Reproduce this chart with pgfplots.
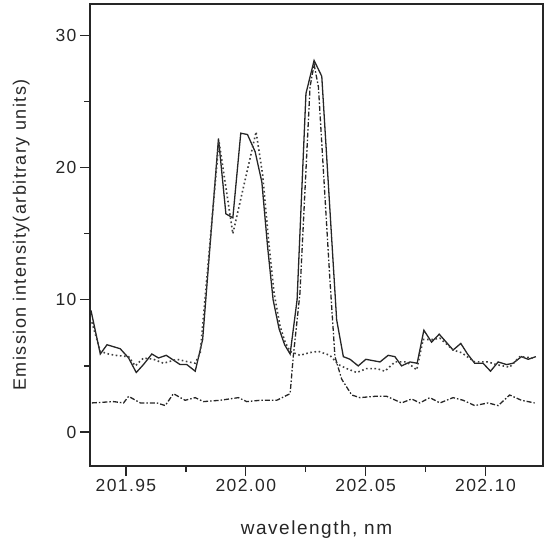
\documentclass[border=0pt]{standalone}
\usepackage{pgfplots}
\pgfplotsset{compat=1.18}
\usepackage{fontspec}
\setmainfont{Liberation Sans}[LetterSpace=8]
\begin{document}
\begin{tikzpicture}
\begin{axis}[
  scale only axis,
  width=453pt, height=462pt,
  xmin=201.935, xmax=202.124,
  ymin=-2.57, ymax=32.37,
  axis line style={line width=1.3pt, black!85},
  tick pos=left,
  tick align=outside,
  major tick length=10pt,
  minor tick length=6pt,
  every tick/.style={line width=1.3pt, black!85},
  xtick={201.95,202.00,202.05,202.10},
  minor x tick num=1,
  ytick={0,10,20,30},
  minor y tick num=1,
  xticklabel style={/pgf/number format/.cd, fixed, fixed zerofill, precision=2, 1000 sep={}, assume math mode=true},
  yticklabel style={/pgf/number format/assume math mode=true},
  ticklabel style={font=\fontsize{17.5}{20}\selectfont, black!85},
  scaled x ticks=false,
  xlabel={wavelength, nm},
  ylabel={Emission intensity(arbitrary units)},
  xlabel style={at={(axis description cs:0.5,-0.138)}, anchor=center, font=\fontsize{19}{22}\selectfont, black!85},
  ylabel style={at={(axis description cs:-0.152,0.5)}, anchor=center, rotate=0, font=\fontsize{18}{21}\selectfont, black!85},
  clip=true,
]
% solid
\addplot[black!85, line width=1.3pt] coordinates {
(201.9354,9.2) (201.9393,5.9) (201.9421,6.6) (201.9476,6.3) (201.9511,5.6)
(201.9543,4.5) (201.9573,5.1) (201.9608,5.9) (201.9636,5.6) (201.9668,5.8)
(201.9726,5.1) (201.9754,5.1) (201.9789,4.6) (201.9820,7.0)
(201.9886,22.2) (201.9917,16.5) (201.9946,16.2) (201.9979,22.6) (202.0007,22.5)
(202.0039,21.2) (202.0067,18.9) (202.0091,14.0) (202.0114,10.0) (202.0139,7.8)
(202.0162,6.6) (202.0185,5.9) (202.0214,10.0) (202.0251,25.6) (202.0285,28.1)
(202.0317,26.9) (202.0379,8.5) (202.0407,5.7) (202.0435,5.5) (202.0469,5.0)
(202.0501,5.5) (202.0530,5.4) (202.0560,5.3) (202.0594,5.8) (202.0622,5.7)
(202.0650,5.0) (202.0685,5.3) (202.0715,5.2) (202.0743,7.7) (202.0775,6.8)
(202.0807,7.4) (202.0836,6.8) (202.0865,6.2) (202.0897,6.7) (202.0925,5.9)
(202.0955,5.2) (202.0990,5.2) (202.1021,4.6) (202.1053,5.3) (202.1088,5.1)
(202.1115,5.2) (202.1150,5.7) (202.1178,5.5) (202.1210,5.7)
};
% dotted
\addplot[black!75, line width=1.6pt, dash pattern=on 1.6pt off 2.6pt] coordinates {
(201.9358,8.3) (201.9393,6.1) (201.9428,5.9) (201.9455,5.8) (201.9511,5.7)
(201.9539,5.0) (201.9573,5.6) (201.9615,5.5) (201.9657,5.2) (201.9713,5.5)
(201.9761,5.3) (201.9789,5.2) (201.9810,6.0) (201.9888,22.0) (201.9946,15.0)
(202.0043,22.7) (202.0070,19.5) (202.0095,14.5) (202.0118,10.5) (202.0143,8.0)
(202.0164,6.8) (202.0185,6.1) (202.0226,5.8) (202.0265,6.0) (202.0303,6.1)
(202.0351,5.8) (202.0386,5.1) (202.0421,4.8) (202.0463,4.5) (202.0504,4.8)
(202.0546,4.8) (202.0580,4.6) (202.0622,5.3) (202.0671,5.3) (202.0713,4.7)
(202.0740,7.0) (202.0782,7.0) (202.0810,7.1) (202.0865,6.2) (202.0900,6.0)
(202.0955,5.3) (202.1011,5.3) (202.1046,5.1) (202.1101,4.9) (202.1143,5.7)
(202.1198,5.6)
};
% dash-dot
\addplot[black!85, line width=1.3pt, dash pattern=on 5pt off 2pt on 1.5pt off 2pt] coordinates {
(201.9358,2.2) (201.9448,2.3) (201.9490,2.2) (201.9511,2.7) (201.9560,2.2)
(201.9629,2.2) (201.9664,2.0) (201.9698,2.9) (201.9747,2.4) (201.9789,2.6)
(201.9823,2.3) (201.9893,2.4) (201.9969,2.6) (202.0004,2.3) (202.0060,2.4)
(202.0129,2.4) (202.0185,2.9) (202.0198,5.7) (202.0226,10.5) (202.0268,26.1)
(202.0285,27.8) (202.0303,26.1) (202.0351,11.5) (202.0372,5.7) (202.0400,4.0)
(202.0442,2.8) (202.0476,2.6) (202.0539,2.7) (202.0588,2.7) (202.0650,2.2)
(202.0692,2.5) (202.0726,2.2) (202.0768,2.6) (202.0810,2.2) (202.0865,2.6)
(202.0907,2.4) (202.0955,2.0) (202.1011,2.2) (202.1053,2.0) (202.1101,2.8)
(202.1150,2.4) (202.1205,2.2)
};
\end{axis}
\path ([shift={(-90pt,-73pt)}]current axis.south west) rectangle ([shift={(8pt,4pt)}]current axis.north east);
\end{tikzpicture}
\end{document}
